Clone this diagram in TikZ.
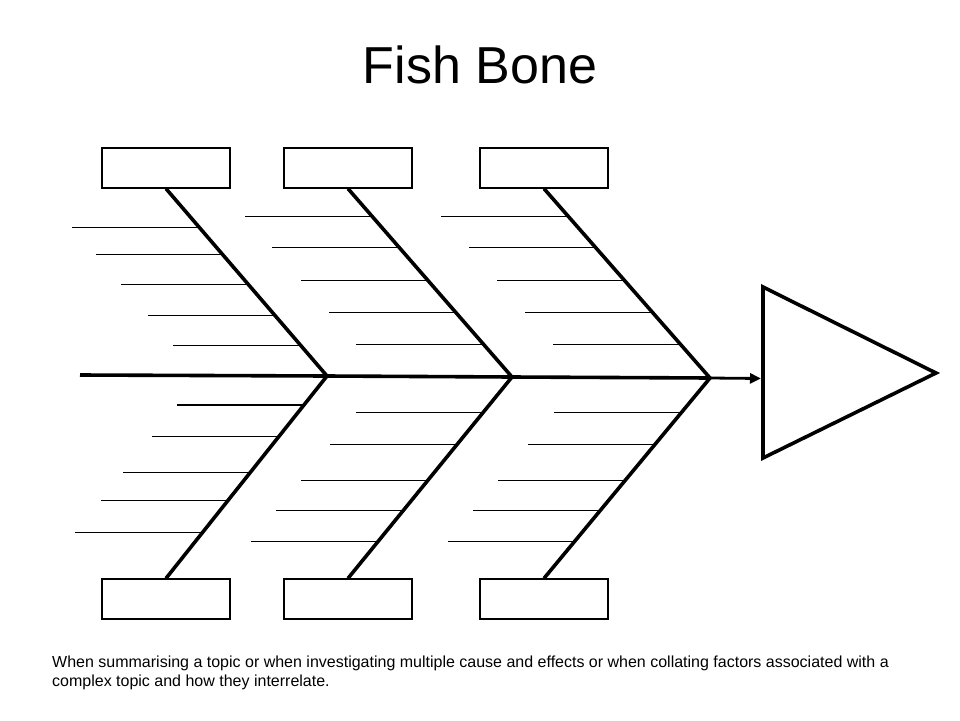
\documentclass[tikz,border=0pt]{standalone}
\usepackage{fontspec}
\setmainfont{Liberation Sans}
\usetikzlibrary{arrows.meta,calc}

\begin{document}
\begin{tikzpicture}[x=1pt,y=-1pt,
  cause/.style={draw,line width=1.3pt,minimum width=128pt,minimum height=40pt,inner sep=0pt},
  bone/.style={line width=3.6pt},
  rib/.style={line width=1.2pt}]
\useasboundingbox (0,0) rectangle (960,720);

\node[font=\fontsize{52}{60}\selectfont,anchor=base] (title) at (480,83) {Fish Bone};

% boxes for the causes
\node[cause] (t1) at (166,168) {};
\node[cause] (t2) at (348,168) {};
\node[cause] (t3) at (544,168) {};
\node[cause] (b1) at (166,599) {};
\node[cause] (b2) at (348,599) {};
\node[cause] (b3) at (544,599) {};

\coordinate (tail) at (80,375);
\coordinate (J1) at (327,376);
\coordinate (J2) at (512,377);
\coordinate (J3) at (710,378);
\coordinate (effect) at (761,378.5);

% head
\draw[line width=3.6pt] (763,287) -- (936,373) -- (763,458) -- cycle;

% small bones
\foreach \a/\b/\ya/\yb/\ys in {t1.south/J1/188/376/{227,254,284,315,345},
                               t2.south/J2/188/377/{216,247,280,312,344},
                               t3.south/J3/188/378/{216,247,280,312,344},
                               J1/b1.north/376/579/{405,437,473,501,533},
                               J2/b2.north/377/579/{413,445,481,511,542},
                               J3/b3.north/378/579/{413,445,481,511,542}}
  \foreach \y in \ys
    \draw[rib] ($(\a)!{(\y-\ya)/(\yb-\ya)}!(\b)$) -- ++(-127,0);

\draw[bone] (t1.south) -- (J1) -- (b1.north);
\draw[bone] (t2.south) -- (J2) -- (b2.north);
\draw[bone] (t3.south) -- (J3) -- (b3.north);

% spine
\draw[bone] (tail) -- (J1) -- (J2) -- (J3);
\draw[line width=2.8pt,-{Triangle[length=11pt,width=10pt]}] (J3) -- (effect);

\node[anchor=base west,align=left,font=\fontsize{16}{19}\selectfont,inner sep=0pt] (note) at (52,686)
  {When summarising a topic or when investigating multiple cause and effects or when collating factors associated with a\\
   complex topic and how they interrelate.};

\end{tikzpicture}
\end{document}
